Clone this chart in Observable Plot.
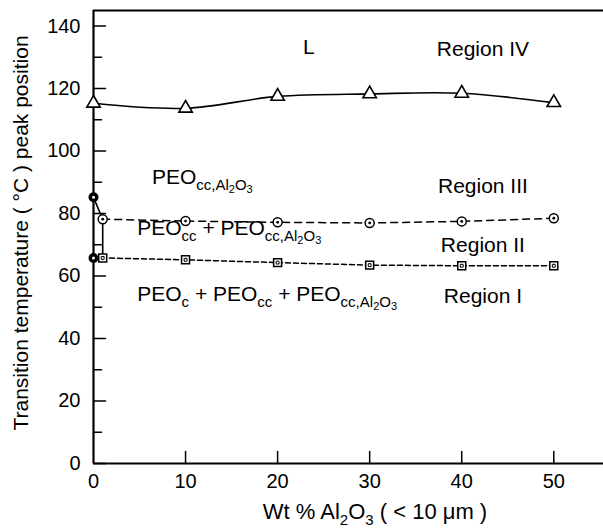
<!DOCTYPE html>
<html><head><meta charset="utf-8">
<script src="https://cdn.jsdelivr.net/npm/d3@7"></script>
<script src="https://cdn.jsdelivr.net/npm/@observablehq/plot@0.6"></script>
<style>body{margin:0;background:#fff} svg{font-family:"Liberation Sans",Arial,Helvetica,sans-serif}</style>
</head><body><div id="chart"></div>
<script>
// ---- data ----
const xTicks = [0, 10, 20, 30, 40, 50];
const yTicks = [0, 20, 40, 60, 80, 100, 120, 140];
const yMinorTicks = [10, 30, 50, 70, 90, 110, 130];

const triX = [0, 10, 20, 30, 40, 50];
const triY = [115.3, 113.7, 117.5, 118.3, 118.5, 115.5];      // Region IV boundary

const circX = [1, 10, 20, 30, 40, 50];
const circY = [78.2, 77.6, 77.2, 77.0, 77.5, 78.5];           // Region III/II boundary

const sqX = [1, 10, 20, 30, 40, 50];
const sqY = [65.8, 65.2, 64.3, 63.5, 63.3, 63.3];             // Region II/I boundary

const pureX = [0, 0];
const pureY = [85.2, 65.8];                                    // filled points at 0 wt%

const regionLabels = ["L", "Region IV", "Region III", "Region II", "Region I"];
const regionLabelX = [23.4, 42.3, 42.3, 42.3, 42.3];
const regionLabelY = [133.1, 132.5, 88.7, 69.9, 53.6];

// ---- tables built from arrays ----
const tri = triX.map((x, i) => ({x, y: triY[i]}));
const circ = circX.map((x, i) => ({x, y: circY[i]}));
const sq = sqX.map((x, i) => ({x, y: sqY[i]}));
const pure = pureX.map((x, i) => ({x, y: pureY[i]}));
const sqLine = [pure[1], ...sq];
const boundary = [pure[0], circ[0], sq[0]];
const regions = regionLabels.map((t, i) => ({t, x: regionLabelX[i], y: regionLabelY[i]}));

const tickShape = {draw(ctx, l) { ctx.moveTo(0, 0); ctx.lineTo(0, -l); }};

const plot = Plot.plot({
  width: 603, height: 529,
  marginLeft: 93, marginRight: 0, marginTop: 10, marginBottom: 66,
  x: {domain: [0, 55.4]},
  y: {domain: [0, 145]},
  style: {fontSize: "20px", fontFamily: "'Liberation Sans', Arial, sans-serif", color: "black", background: "white"},
  marks: [
    Plot.axisX({ticks: xTicks, tickSize: 0, tickPadding: 10, label: null, tickFormat: d => d}),
    Plot.axisY({ticks: yTicks, tickSize: 0, tickPadding: 13, label: null, tickFormat: d => d}),
    Plot.vector(xTicks.filter(d => d > 0), {x: d => d, y: () => 0, rotate: 0, length: 12, anchor: "start", shape: tickShape, stroke: "black", strokeWidth: 1.5}),
    Plot.vector(yTicks, {x: () => 0, y: d => d, rotate: 90, length: 12, anchor: "start", shape: tickShape, stroke: "black", strokeWidth: 1.5}),
    Plot.vector(yMinorTicks, {x: () => 0, y: d => d, rotate: 90, length: 8, anchor: "start", shape: tickShape, stroke: "black", strokeWidth: 1.5}),
    Plot.ruleX([0], {stroke: "black", strokeWidth: 2.2}),
    Plot.ruleY([0], {stroke: "black", strokeWidth: 2.2}),
    Plot.ruleY([145], {stroke: "black", strokeWidth: 2.2}),
    Plot.line(tri, {x: "x", y: "y", curve: "catmull-rom", stroke: "black", strokeWidth: 1.6}),
    Plot.line(circ, {x: "x", y: "y", stroke: "black", strokeWidth: 1.5, strokeDasharray: "7,5"}),
    Plot.line(sqLine, {x: "x", y: "y", stroke: "black", strokeWidth: 1.5, strokeDasharray: "5,3"}),
    Plot.line(boundary, {x: "x", y: "y", stroke: "black", strokeWidth: 1.6}),
    Plot.dot(tri, {x: "x", y: "y", symbol: "triangle", r: 5, fill: "white", stroke: "black", strokeWidth: 1.6}),
    Plot.dot(circ, {x: "x", y: "y", symbol: "circle", r: 4.5, fill: "white", stroke: "black", strokeWidth: 1.5}),
    Plot.dot(circ, {x: "x", y: "y", symbol: "circle", r: 1.4, fill: "black"}),
    Plot.dot(sq, {x: "x", y: "y", symbol: "square", r: 4.5, fill: "white", stroke: "black", strokeWidth: 1.5}),
    Plot.dot(sq, {x: "x", y: "y", symbol: "square", r: 1.6, fill: "none", stroke: "black", strokeWidth: 1}),
    Plot.dot(pure, {x: "x", y: "y", symbol: "circle", r: 5, fill: "black"}),
    Plot.dot(pure, {x: "x", y: "y", symbol: "circle", r: 1.5, fill: "white"}),
    Plot.text(regions, {x: "x", y: "y", text: "t", fontSize: 21, fill: "black", textAnchor: "middle", lineAnchor: "middle"})
  ]
});

document.getElementById("chart").appendChild(plot);

// ---- rich-text annotations with subscripts, positioned through Plot scales ----
const sx = plot.scale("x"), sy = plot.scale("y");
const svg = d3.select(plot);
const sizes = [21, 15, 11];
const offs = [0, 6, 9];

function richText(sel, segs) {
  let cur = 0;
  for (const [t, lvl] of segs) {
    const o = offs[lvl];
    sel.append("tspan").attr("dy", o - cur).attr("font-size", sizes[lvl]).text(t.replace(/ /g, "\u00A0"));
    cur = o;
  }
}

const peoLabels = [
  {x: 6.4, y: 89.4, segs: [["PEO", 0], ["cc,Al", 1], ["2", 2], ["O", 1], ["3", 2]]},
  {x: 4.8, y: 73.1, segs: [["PEO", 0], ["cc", 1], [" + PEO", 0], ["cc,Al", 1], ["2", 2], ["O", 1], ["3", 2]]},
  {x: 4.8, y: 52.0, segs: [["PEO", 0], ["c", 1], [" + PEO", 0], ["cc", 1], [" + PEO", 0], ["cc,Al", 1], ["2", 2], ["O", 1], ["3", 2]]}
];
for (const p of peoLabels) {
  const t = svg.append("text").attr("x", sx.apply(p.x)).attr("y", sy.apply(p.y))
    .attr("text-anchor", "start").attr("fill", "black");
  richText(t, p.segs);
}

// axis titles
const xl = svg.append("text").attr("x", 375).attr("y", 519).attr("text-anchor", "middle").attr("fill", "black").attr("font-size", 22);
xl.append("tspan").text("Wt % Al");
xl.append("tspan").attr("dy", 6).attr("font-size", 15).text("2");
xl.append("tspan").attr("dy", -6).text("O");
xl.append("tspan").attr("dy", 6).attr("font-size", 15).text("3");
xl.append("tspan").attr("dy", -6).text("\u00A0( < 10 \u03BCm )");

svg.append("text").attr("transform", "translate(20,233) rotate(-90)").attr("text-anchor", "middle")
  .attr("dominant-baseline", "central").attr("fill", "black").attr("font-size", 21)
  .text("Transition temperature ( \u00B0C ) peak position");
</script></body></html>
